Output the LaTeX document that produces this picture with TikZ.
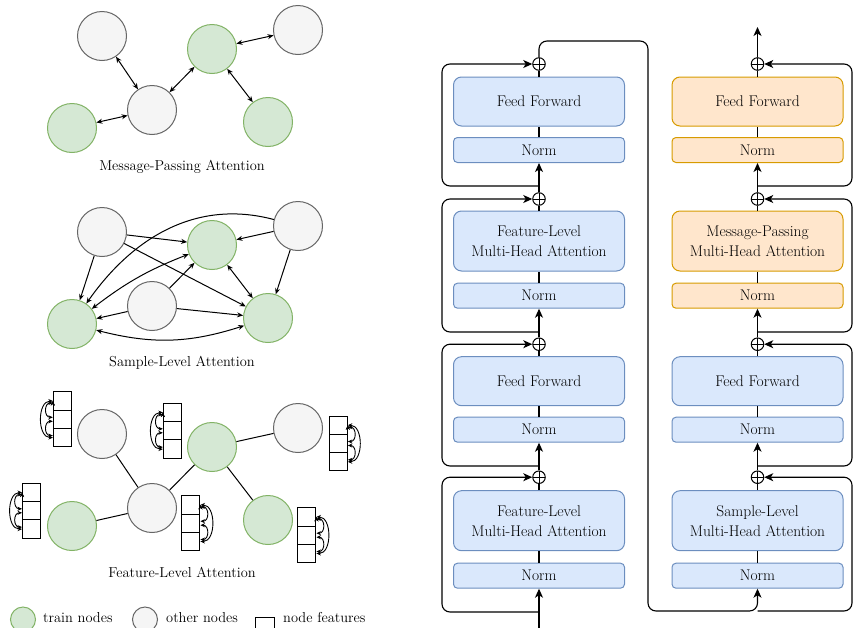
\documentclass[tikz,border=0pt]{standalone}
\usepackage{tikz}
\usetikzlibrary{shapes,arrows.meta}
\definecolor{bluefill}{HTML}{DAE8FC}
\definecolor{blueline}{HTML}{6C8EBF}
\definecolor{orangefill}{HTML}{FFE6CC}
\definecolor{orangeline}{HTML}{D79B00}
\definecolor{greenfill}{HTML}{D5E8D4}
\definecolor{greenline}{HTML}{82B366}
\definecolor{greyfill}{HTML}{F5F5F5}
\definecolor{greyline}{HTML}{666666}
\newcommand{\blockfont}{\fontsize{15.5}{20}\selectfont}
\newcommand{\capfont}{\fontsize{14.4}{17}\selectfont}
\tikzstyle{block} = [rectangle, draw=blueline, fill=bluefill, line width=1pt, rounded corners=8pt, minimum width=171pt, minimum height=49pt, align=center, font=\blockfont]
\tikzstyle{attn} = [block, minimum height=60pt]
\tikzstyle{norm} = [block, rounded corners=4pt, minimum height=25pt]
\tikzstyle{mp} = [draw=orangeline, fill=orangefill]
\tikzstyle{sum} = [circle, draw, line width=1pt, fill=white, minimum size=12.5pt, inner sep=0pt, path picture={\draw[line width=1pt] (path picture bounding box.north) -- (path picture bounding box.south) (path picture bounding box.west) -- (path picture bounding box.east);}]
\tikzstyle{line} = [draw, line width=1.1pt, -{Stealth[length=9pt, width=8pt, inset=2.5pt]}]
\tikzstyle{skipline} = [line, rounded corners=8pt]
\tikzstyle{wire} = [draw, line width=1.1pt]
\tikzstyle{train} = [circle, draw=greenline, fill=greenfill, line width=1pt, minimum size=49pt]
\tikzstyle{other} = [circle, draw=greyline, fill=greyfill, line width=1pt, minimum size=49pt]
\tikzstyle{cell} = [rectangle, draw, line width=1pt, fill=white, minimum size=18.3pt, inner sep=0pt, node distance=18.3pt]
\tikzstyle{oneway} = [draw, line width=1pt, -{Stealth[length=6pt, width=5pt]}]
\tikzstyle{twoway} = [draw, line width=1pt, {Stealth[length=6pt, width=5pt]}-{Stealth[length=6pt, width=5pt]}]
\tikzstyle{feat} = [draw, line width=0.9pt, {Stealth[length=4.5pt, width=4pt]}-{Stealth[length=4.5pt, width=4pt]}]
\tikzstyle{lbend} = [out=180, in=180, looseness=1.6]
\tikzstyle{rbend} = [out=0, in=0, looseness=1.6]
\tikzstyle{gcaption} = [font=\capfont]
\tikzstyle{legend} = [font=\capfont, anchor=west, inner sep=0pt]

\begin{document}
\begin{tikzpicture}[x=1pt, y=-1pt]
  \useasboundingbox (0,0) rectangle (854,627);
  \clip (0,0) rectangle (854,627);
  % Message-passing graph
  \node [other] (mA) at (102,36) {};
  \node [train] (mB) at (212,49) {};
  \node [other] (mC) at (298,30) {};
  \node [other] (mD) at (152,110) {};
  \node [train] (mE) at (72,128) {};
  \node [train] (mF) at (268,122) {};
  \node [gcaption] (mcap) at (182,167) {Message-Passing Attention};
  \path [twoway] (mA) edge (mD) (mD) edge (mB) (mB) edge (mC) (mB) edge (mF) (mE) edge (mD);
  % Sample-level graph
  \node [other] (sA) at (102,232) {};
  \node [train] (sB) at (212,245) {};
  \node [other] (sC) at (298,226) {};
  \node [other] (sD) at (152,306) {};
  \node [train] (sE) at (72,324) {};
  \node [train] (sF) at (268,318) {};
  \node [gcaption] (scap) at (182,363) {Sample-Level Attention};
  \path [oneway] (sA) edge (sE) (sA) edge (sB) (sA) edge (sF) (sC) edge (sB) (sC) edge (sF)
    (sD) edge (sB) (sD) edge (sE) (sD) edge (sF) (sC) edge [out=165, in=55] (sE);
  \path [twoway] (sB) edge (sF) (sE) edge [bend left=8] (sB) (sE) edge [bend right=16] (sF);
  % Feature-level graph
  \node [other] (fA) at (102,434) {};
  \node [train] (fB) at (212,447) {};
  \node [other] (fC) at (298,428) {};
  \node [other] (fD) at (152,508) {};
  \node [train] (fE) at (72,526) {};
  \node [train] (fF) at (268,520) {};
  \node [gcaption] (fcap) at (182,572) {Feature-Level Attention};
  \path [wire, line width=1pt] (fA) -- (fD) (fD) -- (fB) (fB) -- (fC) (fB) -- (fF) (fE) -- (fD);
  % feature stacks
  \node [cell] (featA1) at (62.5,401) {}; \node [cell, below of=featA1] (featA2) {}; \node [cell, below of=featA2] (featA3) {};
  \path [feat] ([yshift=-2pt]featA1.west) edge [lbend] ([yshift=2pt]featA2.west) ([yshift=-2pt]featA2.west) edge [lbend] ([yshift=2pt]featA3.west) (featA1.west) edge [lbend, looseness=1.1] (featA3.west);
  \node [cell] (featB1) at (172.5,412.5) {}; \node [cell, below of=featB1] (featB2) {}; \node [cell, below of=featB2] (featB3) {};
  \path [feat] ([yshift=-2pt]featB1.west) edge [lbend] ([yshift=2pt]featB2.west) ([yshift=-2pt]featB2.west) edge [lbend] ([yshift=2pt]featB3.west) (featB1.west) edge [lbend, looseness=1.1] (featB3.west);
  \node [cell] (featC1) at (338.2,425.2) {}; \node [cell, below of=featC1] (featC2) {}; \node [cell, below of=featC2] (featC3) {};
  \path [feat] ([yshift=-2pt]featC1.east) edge [rbend] ([yshift=2pt]featC2.east) ([yshift=-2pt]featC2.east) edge [rbend] ([yshift=2pt]featC3.east) (featC1.east) edge [rbend, looseness=1.1] (featC3.east);
  \node [cell] (featE1) at (31.7,492.5) {}; \node [cell, below of=featE1] (featE2) {}; \node [cell, below of=featE2] (featE3) {};
  \path [feat] ([yshift=-2pt]featE1.west) edge [lbend] ([yshift=2pt]featE2.west) ([yshift=-2pt]featE2.west) edge [lbend] ([yshift=2pt]featE3.west) (featE1.west) edge [lbend, looseness=1.1] (featE3.west);
  \node [cell] (featD1) at (190.8,504.9) {}; \node [cell, below of=featD1] (featD2) {}; \node [cell, below of=featD2] (featD3) {};
  \path [feat] ([yshift=-2pt]featD1.east) edge [rbend] ([yshift=2pt]featD2.east) ([yshift=-2pt]featD2.east) edge [rbend] ([yshift=2pt]featD3.east) (featD1.east) edge [rbend, looseness=1.1] (featD3.east);
  \node [cell] (featF1) at (306.8,516.9) {}; \node [cell, below of=featF1] (featF2) {}; \node [cell, below of=featF2] (featF3) {};
  \path [feat] ([yshift=-2pt]featF1.east) edge [rbend] ([yshift=2pt]featF2.east) ([yshift=-2pt]featF2.east) edge [rbend] ([yshift=2pt]featF3.east) (featF1.east) edge [rbend, looseness=1.1] (featF3.east);
  % legend
  \node [train, minimum size=25pt] (keytrain) at (23,619.5) {};
  \node [legend] (keytraintext) at (43,617.5) {train nodes};
  \node [other, minimum size=25pt] (keyother) at (145,619.5) {};
  \node [legend] (keyothertext) at (166,617.5) {other nodes};
  \node [cell] (keyfeat) at (265,626.2) {};
  \node [legend] (keyfeattext) at (283,617.5) {node features};
  % Left encoder stack
  \node [block] (lff4) at (539,101.5) {Feed Forward};
  \node [norm, below of=lff4, node distance=48.5pt] (lnorm4) {Norm};
  \node [attn, below of=lnorm4, node distance=91pt] (lattn3) {Feature-Level\\Multi-Head Attention};
  \node [norm, below of=lattn3, node distance=54.7pt] (lnorm3) {Norm};
  \node [block, below of=lnorm3, node distance=85.5pt] (lff2) {Feed Forward};
  \node [norm, below of=lff2, node distance=48.5pt] (lnorm2) {Norm};
  \node [attn, below of=lnorm2, node distance=91pt] (lattn1) {Feature-Level\\Multi-Head Attention};
  \node [norm, below of=lattn1, node distance=55pt] (lnorm1) {Norm};
  \node [sum, above of=lff4, node distance=37.5pt] (lsum4) {};
  \node [sum, above of=lattn3, node distance=42pt] (lsum3) {};
  \node [sum, above of=lff2, node distance=37pt] (lsum2) {};
  \node [sum, above of=lattn1, node distance=43.5pt] (lsum1) {};
  % Right encoder stack
  \node [block, mp] (rff4) at (757.5,101.5) {Feed Forward};
  \node [norm, mp, below of=rff4, node distance=48.5pt] (rnorm4) {Norm};
  \node [attn, mp, below of=rnorm4, node distance=91pt] (rattn3) {Message-Passing\\Multi-Head Attention};
  \node [norm, mp, below of=rattn3, node distance=54.7pt] (rnorm3) {Norm};
  \node [block, below of=rnorm3, node distance=85.5pt] (rff2) {Feed Forward};
  \node [norm, below of=rff2, node distance=48.5pt] (rnorm2) {Norm};
  \node [attn, below of=rnorm2, node distance=91pt] (rattn1) {Sample-Level\\Multi-Head Attention};
  \node [norm, below of=rattn1, node distance=55pt] (rnorm1) {Norm};
  \node [sum, above of=rff4, node distance=37.5pt] (rsum4) {};
  \node [sum, above of=rattn3, node distance=42pt] (rsum3) {};
  \node [sum, above of=rff2, node distance=37pt] (rsum2) {};
  \node [sum, above of=rattn1, node distance=43.5pt] (rsum1) {};
  % Turning points
  \coordinate (in) at (539,640);
  \coordinate (lsplit1) at (539,612);
  \coordinate (lsplit2) at (539,466);
  \coordinate (lsplit3) at (539,332);
  \coordinate (lsplit4) at (539,186);
  \coordinate (lx) at (442,0);
  \coordinate (turnA) at (648,41);
  \coordinate (turnB) at (648,611);
  \coordinate (rsplit1) at (757.5,611);
  \coordinate (rsplit2) at (757.5,466);
  \coordinate (rsplit3) at (757.5,332);
  \coordinate (rsplit4) at (757.5,186);
  \coordinate (rx) at (852,0);
  \coordinate (out) at (757.5,27);
  % Draw edges
  \path [line] (in) -- (lnorm1);
  \path [wire] (lnorm1) -- (lattn1) (lattn1) -- (lsum1);
  \path [skipline] (lsplit1) -| (lx |- lsum1) -- (lsum1);
  \path [line] (lsum1) -- (lnorm2);
  \path [wire] (lnorm2) -- (lff2) (lff2) -- (lsum2);
  \path [skipline] (lsplit2) -| (lx |- lsum2) -- (lsum2);
  \path [line] (lsum2) -- (lnorm3);
  \path [wire] (lnorm3) -- (lattn3) (lattn3) -- (lsum3);
  \path [skipline] (lsplit3) -| (lx |- lsum3) -- (lsum3);
  \path [line] (lsum3) -- (lnorm4);
  \path [wire] (lnorm4) -- (lff4) (lff4) -- (lsum4);
  \path [skipline] (lsplit4) -| (lx |- lsum4) -- (lsum4);
  \path [skipline] (lsum4) |- (turnA) -- (turnB) -| (rnorm1);
  \path [wire] (rnorm1) -- (rattn1) (rattn1) -- (rsum1);
  \path [skipline] (rsplit1) -| (rx |- rsum1) -- (rsum1);
  \path [line] (rsum1) -- (rnorm2);
  \path [wire] (rnorm2) -- (rff2) (rff2) -- (rsum2);
  \path [skipline] (rsplit2) -| (rx |- rsum2) -- (rsum2);
  \path [line] (rsum2) -- (rnorm3);
  \path [wire] (rnorm3) -- (rattn3) (rattn3) -- (rsum3);
  \path [skipline] (rsplit3) -| (rx |- rsum3) -- (rsum3);
  \path [line] (rsum3) -- (rnorm4);
  \path [wire] (rnorm4) -- (rff4) (rff4) -- (rsum4);
  \path [skipline] (rsplit4) -| (rx |- rsum4) -- (rsum4);
  \path [line] (rsum4) -- (out);
\end{tikzpicture}
\end{document}
